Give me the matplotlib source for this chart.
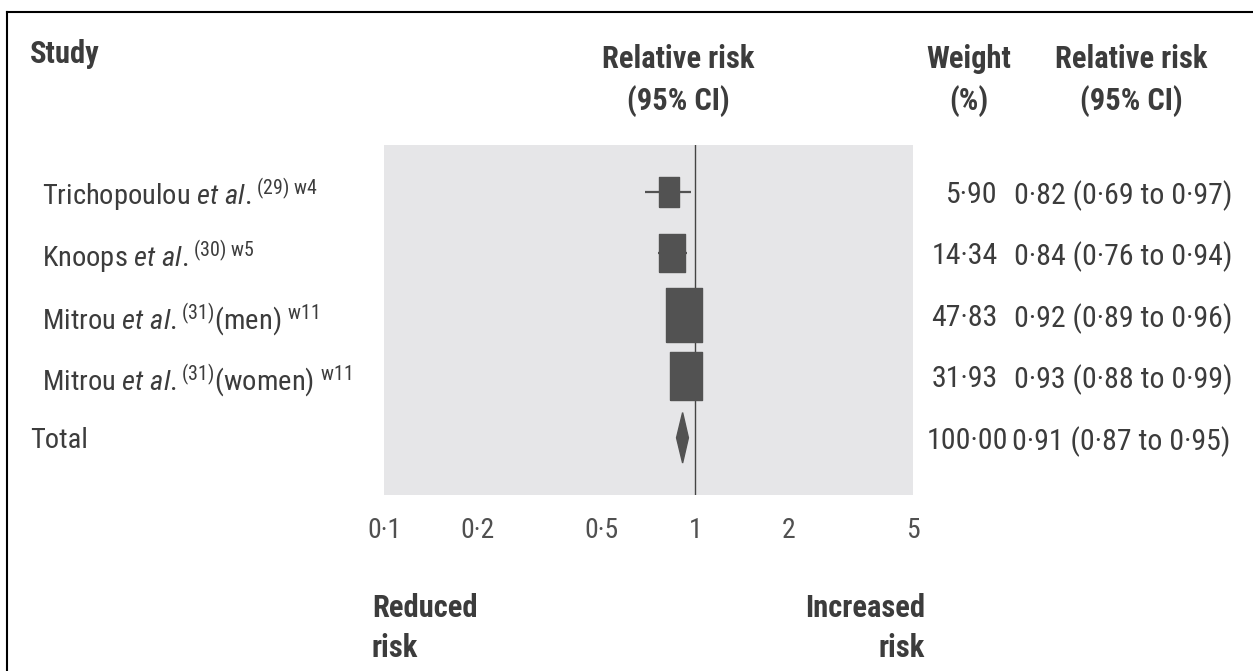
import dataclasses
import numpy as np
import matplotlib
matplotlib.use("Agg")
import matplotlib.pyplot as plt
import matplotlib.transforms as mtransforms
from matplotlib import font_manager
from matplotlib.lines import Line2D
from matplotlib.patches import Polygon

# study rows (label, relative risk, 95% CI, weight %)
studies = [
    r"Trichopoulou $\mathit{et\ al.}^{(29)\ \mathrm{w4}}$",
    r"Knoops $\mathit{et\ al.}^{(30)\ \mathrm{w5}}$",
    r"Mitrou $\mathit{et\ al.}^{(31)}$(men) $^{\mathrm{w11}}$",
    r"Mitrou $\mathit{et\ al.}^{(31)}$(women) $^{\mathrm{w11}}$",
]
rr = [0.82, 0.84, 0.92, 0.93]
ci_low = [0.69, 0.76, 0.89, 0.88]
ci_high = [0.97, 0.94, 0.96, 0.99]
weights = [5.90, 14.34, 47.83, 31.93]

total_label = "Total"
total_rr = 0.91
total_low = 0.87
total_high = 0.95
total_weight = 100.00

xticks = [0.1, 0.2, 0.5, 1, 2, 5]

# narrow face to mimic the journal typeface
fm = font_manager.fontManager
names = {f.name for f in fm.ttflist}
FAMILY = "Liberation Sans"
for cand in ["Roboto Condensed", "Archivo Narrow", "Barlow Semi Condensed"]:
    if cand in names:
        FAMILY = cand
        break

# pin the family to its static Regular / Italic / Bold files so a light or
# variable file never gets picked for plain text
keep = {"-Regular.ttf": 400, "-Italic.ttf": 400, "-Bold.ttf": 700, "-BoldItalic.ttf": 700}
fam = [f for f in fm.ttflist if f.name == FAMILY]
if any(f.fname.endswith("-Regular.ttf") for f in fam):
    pinned = []
    for f in fam:
        for suffix, wt in keep.items():
            if f.fname.endswith(suffix):
                pinned.append(dataclasses.replace(f, weight=wt))
    fm.ttflist = [f for f in fm.ttflist if f.name != FAMILY] + pinned

plt.rcParams["font.family"] = [FAMILY, "DejaVu Sans"]
plt.rcParams["mathtext.fontset"] = "custom"
plt.rcParams["mathtext.rm"] = FAMILY
plt.rcParams["mathtext.it"] = FAMILY + ":italic"
plt.rcParams["mathtext.bf"] = FAMILY + ":bold"

TXT = "#3c3c3c"
MARK = "#525252"
W, H = 1253, 671


def fx(px):
    return px / W


def fy(py):
    return 1 - py / H


def dot(v, fmt="{:.2f}"):
    # journal style uses a raised decimal point
    return fmt.format(v).replace(".", "\u00b7")


fig = plt.figure(figsize=(W / 100, H / 100), dpi=100)
fig.patch.set_facecolor("white")

ax = fig.add_axes([fx(384), fy(495), fx(913) - fx(384), fy(145) - fy(495)])
ax.set_facecolor("#e6e6e8")
for s in ax.spines.values():
    s.set_visible(False)
ax.set_xscale("log")
ax.set_xlim(0.1, 5)
ax.set_ylim(4.93, -0.76)
ax.set_yticks([])
ax.set_xticks(xticks)
ax.set_xticklabels([dot(t, "{:g}") for t in xticks])
ax.minorticks_off()
ax.tick_params(axis="x", length=0, pad=16, labelsize=20, labelcolor="#505050")

ax.axvline(1, color="#444444", lw=1.0, zorder=1)

# rectangular (taller than wide) box marker
box = [(-0.34, -0.5), (0.34, -0.5), (0.34, 0.5), (-0.34, 0.5), (-0.34, -0.5)]
ypos = np.arange(len(studies))
for y, r, lo, hi, w in zip(ypos, rr, ci_low, ci_high, weights):
    ax.plot([lo, hi], [y, y], color=MARK, lw=1.6, zorder=2, solid_capstyle="butt")
    ms = (17 + 5.35 * np.sqrt(w)) * 0.72
    ax.plot([r], [y], marker=box, ms=ms, color=MARK, mec=MARK, ls="none", zorder=3)

yt = len(studies)
diamond = Polygon([(total_low, yt), (total_rr, yt - 0.41), (total_high, yt), (total_rr, yt + 0.41)],
                  closed=True, color=MARK, zorder=3)
ax.add_patch(diamond)

# text columns
trans = mtransforms.blended_transform_factory(fig.transFigure, ax.transData)
for y, lab, w, r, lo, hi in zip(ypos, studies, weights, rr, ci_low, ci_high):
    fig.text(fx(42), y, lab, transform=trans, ha="left", va="center_baseline", fontsize=20.5, color=TXT)
    fig.text(fx(998), y, dot(w), transform=trans, ha="right", va="center_baseline", fontsize=21.5, color=TXT)
    fig.text(fx(1014), y, f"{dot(r)} ({dot(lo)} to {dot(hi)})", transform=trans,
             ha="left", va="center_baseline", fontsize=21.5, color=TXT)
fig.text(fx(30), yt, total_label, transform=trans, ha="left", va="center_baseline", fontsize=20.5, color=TXT)
fig.text(fx(1008), yt, dot(total_weight), transform=trans, ha="right", va="center_baseline", fontsize=21.5,
         color=TXT)
fig.text(fx(1012), yt, f"{dot(total_rr)} ({dot(total_low)} to {dot(total_high)})", transform=trans,
         ha="left", va="center_baseline", fontsize=21.5, color=TXT)

# headers
hkw = dict(fontsize=22, fontweight="bold", color=TXT, va="baseline")
fig.text(fx(30), fy(63), "Study", ha="left", **hkw)
fig.text(fx(678), fy(68), "Relative risk", ha="center", **hkw)
fig.text(fx(678), fy(110), "(95% CI)", ha="center", **hkw)
fig.text(fx(969), fy(68), "Weight", ha="center", **hkw)
fig.text(fx(969), fy(110), "(%)", ha="center", **hkw)
fig.text(fx(1131), fy(68), "Relative risk", ha="center", **hkw)
fig.text(fx(1131), fy(110), "(95% CI)", ha="center", **hkw)

fig.text(fx(372), fy(617), "Reduced", ha="left", **hkw)
fig.text(fx(372), fy(657), "risk", ha="left", **hkw)
fig.text(fx(925), fy(617), "Increased", ha="right", **hkw)
fig.text(fx(925), fy(657), "risk", ha="right", **hkw)

# frame lines on the left and top edges
fig.add_artist(Line2D([fx(7), fx(7)], [0, fy(12)], color="black", lw=1.5))
fig.add_artist(Line2D([fx(7), 1], [fy(12), fy(12)], color="black", lw=1.5))

fig.savefig("out.png", dpi=100)
